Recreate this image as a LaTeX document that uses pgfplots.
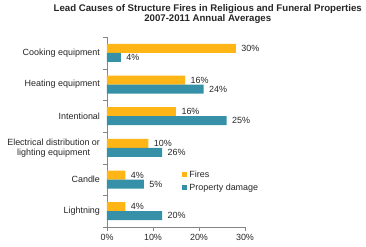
\documentclass[border=0pt]{standalone}
\usepackage{pgfplots}
\pgfplotsset{compat=1.18}
\usepackage{pgfplotstable}
\usepackage{fontspec}
\setmainfont{Liberation Sans}
\definecolor{fireY}{HTML}{FFB515}
\definecolor{dmgT}{HTML}{3590A8}
\definecolor{axgray}{HTML}{868686}
\definecolor{txt}{HTML}{262626}
\pgfplotstableread{
y x lab
0 28 30\%
1 17 16\%
2 15 16\%
3 9 10\%
4 4 4\%
5 4 4\%
}\fires
\pgfplotstableread{
y x lab
0 3 4\%
1 21 24\%
2 26 25\%
3 12 26\%
4 8 5\%
5 12 20\%
}\damage
\begin{document}
\begin{tikzpicture}
\path (-107bp,-20bp) rectangle (259bp,227bp);
\begin{axis}[
  scale only axis,
  width=138bp, height=190bp,
  xbar, bar width=9bp,
  xmin=0, xmax=30,
  ymin=-0.5, ymax=5.5,
  y dir=reverse,
  axis x line*=bottom, axis y line*=left,
  axis line style={-, draw=axgray},
  xtick={0,10,20,30},
  xticklabel={\pgfmathprintnumber{\tick}\%},
  /pgf/number format/assume math mode=true,
  tick align=outside,
  major tick length=3.5bp,
  tick style={draw=axgray},
  ytick={-0.5,0.5,1.5,2.5,3.5,4.5,5.5},
  yticklabels={},
  extra y ticks={0,1,2,3,4,5},
  extra y tick labels={Cooking equipment, Heating equipment, Intentional, {Electrical distribution or\\lighting equipment}, Candle, Lightning},
  extra y tick style={major tick length=0pt, yticklabel style={xshift=-3.5bp}},
  yticklabel style={align=center, font=\fontsize{9}{10}\selectfont, text=txt},
  xticklabel style={font=\fontsize{9}{10}\selectfont, text=txt},
  nodes near coords,
  point meta=explicit symbolic,
  every node near coord/.append style={font=\fontsize{9}{10}\selectfont, text=txt, anchor=west, xshift=2bp},
  legend style={at={(axis description cs:0.545,0.242)}, anchor=west, draw=none, fill=none, font=\fontsize{9}{10}\selectfont, text=txt, row sep=1pt, inner sep=0pt},
  legend cell align=left,
  legend image code/.code={\fill[#1] (0bp,-2.5bp) rectangle (5bp,2.5bp);},
  clip=false,
  title={Lead Causes of Structure Fires in Religious and Funeral Properties\\2007-2011 Annual Averages},
  title style={at={(axis description cs:0.73,1)}, anchor=south, align=center, font=\bfseries\fontsize{9.7}{10.5}\selectfont, text=txt, yshift=4bp},
]
\addplot[fill=fireY, draw=none, bar shift=4.5bp] table[x=x, y=y, meta=lab] {\fires};
\addplot[fill=dmgT, draw=none, bar shift=-4.5bp] table[x=x, y=y, meta=lab] {\damage};
\legend{Fires, Property damage}
\end{axis}
\end{tikzpicture}
\end{document}
